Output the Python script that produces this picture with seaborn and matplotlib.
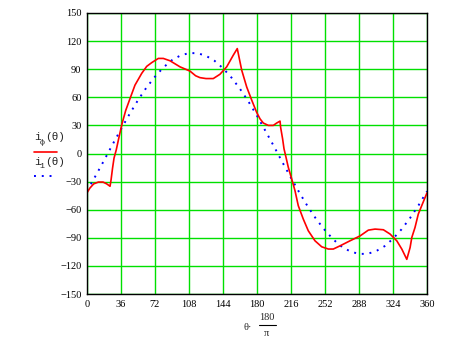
import matplotlib
matplotlib.use("Agg")
import matplotlib.pyplot as plt
import seaborn as sns
import pandas as pd

# Red curve i_ф(θ): angle in degrees, value
red_theta = [0, 3, 7, 12, 17, 21, 24.4, 25.5, 27, 28.6, 31, 34, 37.4, 41, 45.5, 50.8,
             57.9, 63.2, 68.5, 75.5, 80.8, 87.9, 98.5, 109, 115, 119.6, 126, 133.7,
             140.8, 147.9, 154.9, 159.1, 163.8, 169.1, 174.4, 179.6,
             183.2, 186.7, 192, 197.3, 200.8, 204.4, 205, 207.1, 208.6, 210.7, 213.1,
             216.7, 220.2, 223.7, 229, 234.3, 241.4, 248.5, 255.5, 260.8, 267.9,
             278.5, 289.1, 297.9, 305, 313.8, 320.9, 328, 333.3, 338.6, 342.1, 343.9,
             347.3, 350.8, 355.1, 360]
red_value = [-42, -37, -32.5, -30.5, -30.5, -32.5, -35, -28, -16, -5, 4, 18, 33, 46, 58.5, 73,
             85.5, 93, 97, 101.5, 101.5, 99, 92.5, 88, 83, 81, 80, 80,
             84.6, 92.5, 105, 112, 89, 71, 57, 44,
             37, 32.5, 30, 30, 32.5, 34.6, 28, 15.7, 5, -4, -14.6,
             -27, -39.6, -55.7, -70, -82.5, -93.2, -99.6, -102, -102, -98.6,
             -93.2, -88, -81.8, -80.7, -81.4, -86, -93.2, -102, -113, -100.4, -89.7,
             -79, -64.6, -54, -42]

# Blue curve i_1(θ)
blue_theta = [0, 9, 18, 27, 36, 45, 54, 63, 72, 81, 90, 99, 108, 117, 126, 135, 144, 153,
              162, 171, 180, 189, 198, 207, 216, 225, 234, 243, 252, 261, 270, 279, 288,
              297, 306, 315, 324, 333, 342, 351, 360]
blue_value = [-40, -24, -7.5, 9.5, 26, 42, 57, 70.5, 82, 92, 99.7, 104.7, 107.2, 107.1, 104.3,
              99, 91, 81, 69, 55.4, 40.3, 24, 7.5, -9.5, -26, -42, -57, -70.5, -82, -92,
              -99.7, -104.7, -107.2, -107.1, -104.3, -99, -91, -81, -69, -55.4, -40.3]

x_ticks = [0, 36, 72, 108, 144, 180, 216, 252, 288, 324, 360]
y_ticks = [-150, -120, -90, -60, -30, 0, 30, 60, 90, 120, 150]

red_df = pd.DataFrame({"theta": red_theta, "value": red_value})
blue_df = pd.DataFrame({"theta": blue_theta, "value": blue_value})

sns.set_style("white")
plt.rcParams["font.family"] = ["Liberation Serif", "DejaVu Serif"]

fig = plt.figure(figsize=(4.5, 3.39), dpi=100)
ax = fig.add_axes([87 / 450, 45 / 339, 340 / 450, 281 / 339])

green = "#00e000"
ax.set_xlim(0, 360)
ax.set_ylim(-150, 150)
ax.set_xticks(x_ticks)
ax.set_yticks(y_ticks)
ax.set_xticklabels([str(t) for t in x_ticks])
ax.set_yticklabels([str(t).replace("-", "\u2212") for t in y_ticks])
ax.grid(True, color=green, linewidth=1.0)
ax.set_axisbelow(True)
ax.tick_params(length=0, labelsize=7.5, pad=4, colors="black")
for s in ax.spines.values():
    s.set_color("black")
    s.set_linewidth(1.0)
    s.set_visible(True)

sns.lineplot(data=blue_df, x="theta", y="value", ax=ax, color="#0000ff",
             linewidth=1.4, linestyle=(0, (1, 3)), sort=False, legend=False)
sns.lineplot(data=red_df, x="theta", y="value", ax=ax, color="#ff0000",
             linewidth=1.2, sort=False, legend=False)
ax.set_xlabel("")
ax.set_ylabel("")

# Left-side legend labels (Mathcad style)
mono = ["Liberation Mono", "DejaVu Sans Mono"]
fig.text(34 / 450, 1 - 137 / 339, "i", fontsize=8, family=mono, va="center", ha="left")
fig.text(39.5 / 450, 1 - 142 / 339, "ф", fontsize=6, family=mono, va="center", ha="left")
fig.text(45 / 450, 1 - 137 / 339, "(θ)", fontsize=8, family=mono, va="center", ha="left")
fig.add_artist(plt.Line2D([34 / 450, 57 / 450], [1 - 152 / 339, 1 - 152 / 339],
                          color="#ff0000", linewidth=1.2))
fig.text(34 / 450, 1 - 162 / 339, "i", fontsize=8, family=mono, va="center", ha="left")
fig.text(39.5 / 450, 1 - 166 / 339, "1", fontsize=6, family=mono, va="center", ha="left")
fig.text(45 / 450, 1 - 162 / 339, "(θ)", fontsize=8, family=mono, va="center", ha="left")
fig.add_artist(plt.Line2D([34 / 450, 57 / 450], [1 - 176 / 339, 1 - 176 / 339],
                          color="#0000ff", linewidth=1.4, linestyle=(0, (1, 3))))

# X axis label: θ·180/π
fig.text(252 / 450, 1 - 327 / 339, "θ·", fontsize=7.5, va="center", ha="right")
fig.text(267 / 450, 1 - 317 / 339, "180", fontsize=7.5, va="center", ha="center")
fig.add_artist(plt.Line2D([259 / 450, 276 / 450], [1 - 325 / 339, 1 - 325 / 339],
                          color="black", linewidth=0.8))
fig.text(267 / 450, 1 - 333 / 339, "π", fontsize=7.5, va="center", ha="center")

fig.savefig("out.png", dpi=100)
